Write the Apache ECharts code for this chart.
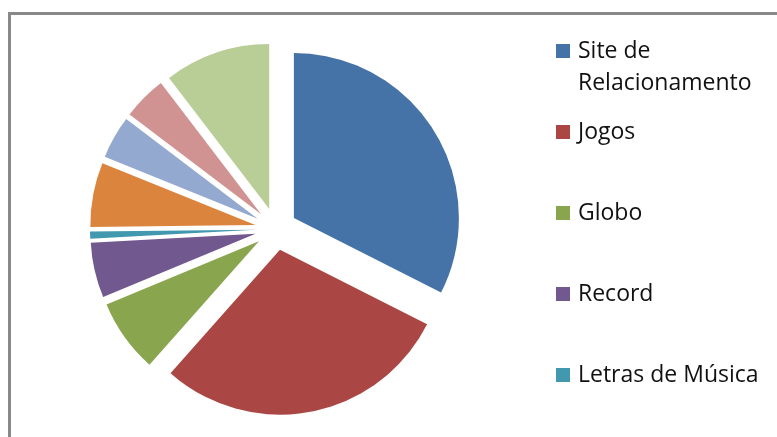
<!DOCTYPE html>
<html>
<head>
<meta charset="utf-8">
<script src="https://cdn.jsdelivr.net/npm/echarts@6/dist/echarts.min.js"></script>
<style>
  html, body { margin: 0; padding: 0; background: #fff; overflow: hidden; }
  #chart { width: 777px; height: 437px; }
</style>
</head>
<body>
<div id="chart"></div>
<script>
// Slice names (clockwise from 12 o'clock) and values (share in %)
const categories = [
  'Site de Relacionamento', 'Jogos', 'Globo', 'Record', 'Letras de Música',
  'Outros 1', 'Outros 2', 'Outros 3', 'Outros 4'
];
const values = [32.5, 29.1, 7.2, 5.4, 0.7, 6.3, 4.2, 4.3, 10.4];
const colors = ['#4572A7', '#AA4643', '#89A54E', '#71588F', '#4198AF',
                '#DB843D', '#93A9CF', '#D19392', '#B9CD96'];
// Legend entries visible in the picture
const legendNames = ['Site de Relacionamento', 'Jogos', 'Globo', 'Record', 'Letras de Música'];
const legendLabels = {
  'Site de Relacionamento': 'Site de\nRelacionamento'
};

const chart = echarts.init(document.getElementById('chart'), null, { renderer: 'canvas' });

const data = categories.map((name, i) => ({
  name: name,
  value: values[i],
  selected: true,
  itemStyle: { color: colors[i] },
  select: { itemStyle: { color: colors[i], borderWidth: 0 } }
}));

chart.setOption({
  animation: false,
  backgroundColor: '#ffffff',
  graphic: [{
    type: 'rect',
    shape: { x: 9.5, y: 13.5, width: 900, height: 600 },
    style: { fill: 'none', stroke: '#898989', lineWidth: 3 },
    silent: true
  }],
  legend: {
    orient: 'vertical',
    left: 556,
    top: 3,
    padding: 0,
    itemWidth: 14,
    itemHeight: 14,
    itemGap: -15,
    icon: 'rect',
    selectedMode: false,
    data: legendNames,
    formatter: function (name) {
      const lab = legendLabels[name];
      return lab ? '\n' + lab : '\n' + name + '\n ';
    },
    textStyle: {
      fontFamily: 'Open Sans',
      fontSize: 23,
      lineHeight: 32,
      color: '#111111',
      padding: [0, 0, 0, 3]
    }
  },
  series: [{
    type: 'pie',
    center: [276, 229],
    radius: 165,
    startAngle: 90,
    clockwise: true,
    selectedMode: 'multiple',
    selectedOffset: 21,
    label: { show: false },
    labelLine: { show: false },
    emphasis: { disabled: true },
    itemStyle: { borderWidth: 0 },
    data: data
  }]
});
</script>
</body>
</html>
